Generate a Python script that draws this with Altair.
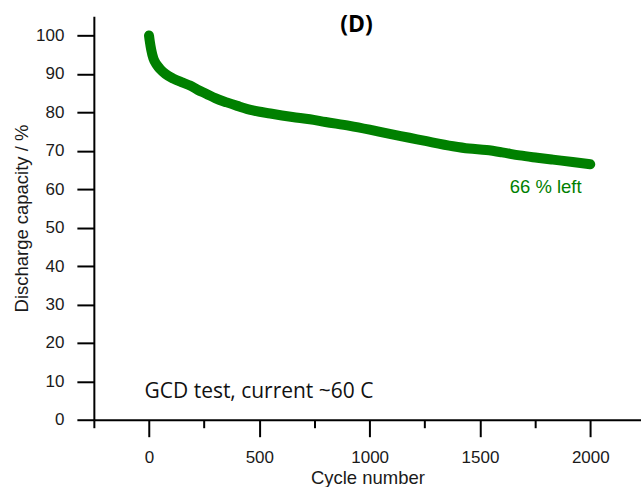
import altair as alt
import pandas as pd

# Cycling data: discharge capacity retention vs. cycle number
cycles = [0, 4, 10, 20, 35, 50, 75, 110, 150, 186, 220, 261, 300, 352, 400,
          471, 550, 650, 729, 800, 910, 1000, 1091, 1180, 1258, 1378, 1450,
          1529, 1600, 1680, 1760, 1831, 1920, 2000]
capacity = [100, 98.3, 96.3, 94, 92.4, 91.3, 90, 88.8, 87.8, 87.0, 85.9, 84.8,
            83.7, 82.6, 81.7, 80.5, 79.7, 78.8, 78.2, 77.5, 76.5, 75.5, 74.4,
            73.4, 72.5, 71.2, 70.6, 70.2, 69.6, 68.8, 68.2, 67.7, 67.1, 66.5]

# Annotations (text, x in cycles, y in %)
panel_label = ["(D)"]
panel_label_pos = [(940, 102.8)]
note_text = ["GCD test, current ~60 C"]
note_pos = [(-20, 7.2)]
end_text = ["66 % left"]
end_pos = [(1798, 60.5)]

x_ticks = list(range(-250, 2001, 250))
y_ticks = list(range(0, 106, 5))

GREEN = "#008000"
LABEL_FONT = "Liberation Sans"

df = pd.DataFrame({"cycle": cycles, "capacity": capacity})

x_scale = alt.Scale(domain=[-250, 2230], nice=False, zero=False)
y_scale = alt.Scale(domain=[0, 105], nice=False)

x_axis = alt.Axis(
    title="Cycle number",
    values=x_ticks,
    format="d",
    labelExpr="datum.value % 500 === 0 ? datum.label : ''",
    tickSize={"condition": {"test": "datum.value % 500 === 0", "value": 17}, "value": 8},
    labelPadding=13,
    titlePadding=3,
    grid=False,
)
y_axis = alt.Axis(
    title="Discharge capacity / %",
    values=y_ticks,
    labelExpr="datum.value % 10 === 0 ? datum.label : ''",
    tickSize={"condition": {"test": "datum.value % 10 === 0", "value": 17}, "value": 8},
    labelPadding=13,
    titlePadding=4,
    grid=False,
)

line = alt.Chart(df).mark_line(
    color=GREEN, strokeWidth=10, strokeCap="round", strokeJoin="round",
    interpolate="monotone",
).encode(
    x=alt.X("cycle:Q", scale=x_scale, axis=x_axis),
    y=alt.Y("capacity:Q", scale=y_scale, axis=y_axis),
)


def text_df(texts, pos):
    return pd.DataFrame({
        "t": texts,
        "x": [p[0] for p in pos],
        "y": [p[1] for p in pos],
    })


title_mark = alt.Chart(text_df(panel_label, panel_label_pos)).mark_text(
    font="Open Sans", fontSize=23, fontWeight="bold", color="black",
    align="center", baseline="middle",
).encode(x=alt.X("x:Q", scale=x_scale), y=alt.Y("y:Q", scale=y_scale), text="t:N")

note_mark = alt.Chart(text_df(note_text, note_pos)).mark_text(
    font="Open Sans", fontSize=21, color="#111111",
    align="left", baseline="middle",
).encode(x=alt.X("x:Q", scale=x_scale), y=alt.Y("y:Q", scale=y_scale), text="t:N")

end_mark = alt.Chart(text_df(end_text, end_pos)).mark_text(
    font=LABEL_FONT, fontSize=18.5, color=GREEN,
    align="center", baseline="middle",
).encode(x=alt.X("x:Q", scale=x_scale), y=alt.Y("y:Q", scale=y_scale), text="t:N")

chart = alt.layer(line, title_mark, note_mark, end_mark).properties(
    width=548,
    height=404,
    autosize="none",
    padding={"left": 94, "top": 16, "right": 0, "bottom": 67},
    background="white",
).configure_view(
    stroke=None
).configure_axis(
    domainColor="black",
    domainWidth=2,
    tickColor="black",
    tickWidth=2,
    labelFont=LABEL_FONT,
    labelFontSize=17,
    labelColor="#1a1a1a",
    titleFont=LABEL_FONT,
    titleFontSize=18.5,
    titleFontWeight="normal",
    titleColor="#1a1a1a",
)

chart.save("out.html", embed_options={"renderer": "svg", "actions": False})
